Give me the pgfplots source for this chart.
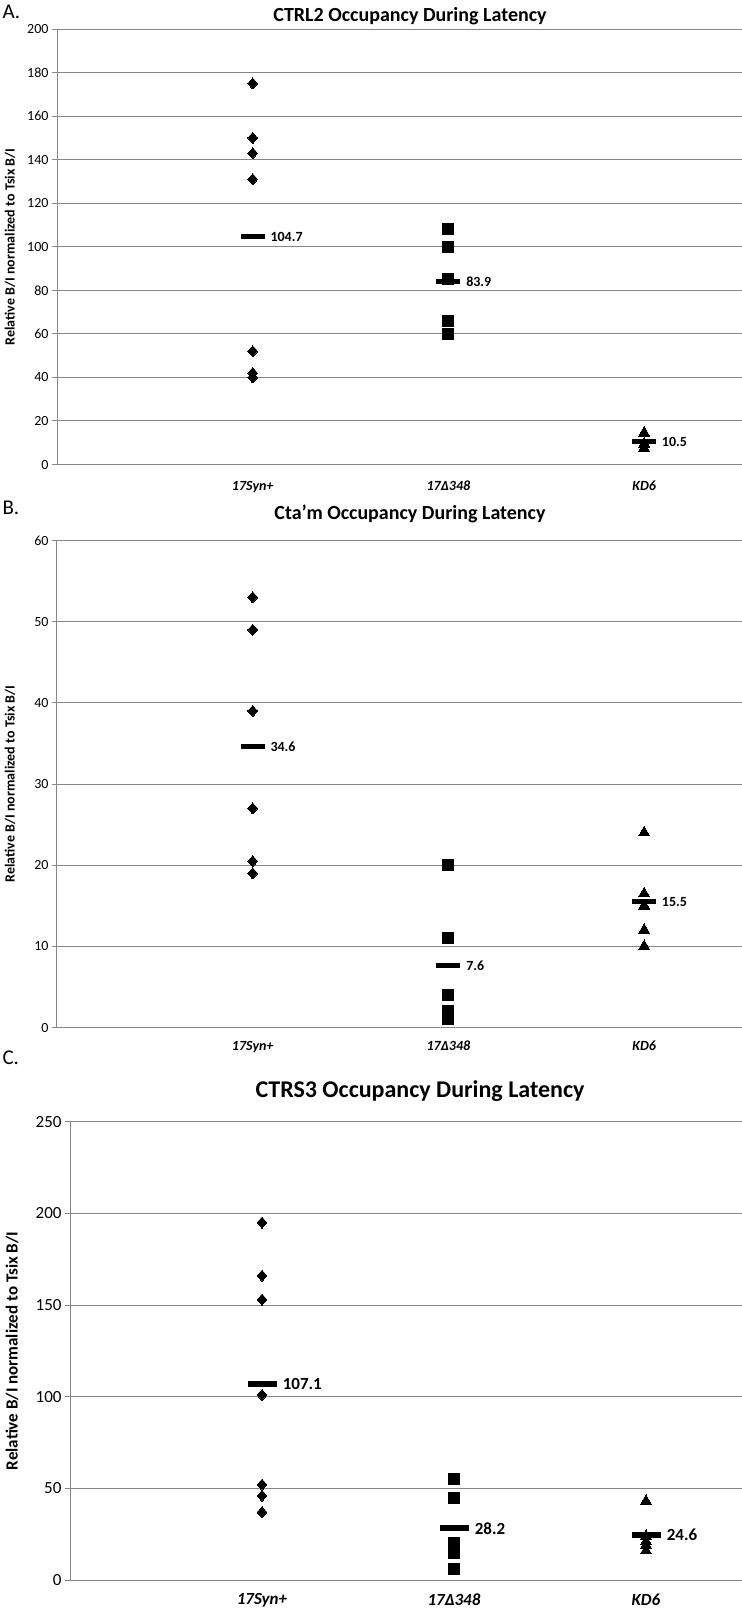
\documentclass[border=0pt]{standalone}
\usepackage{pgfplots}
\pgfplotsset{compat=1.18}
\usepackage{fontspec}
\setmainfont{Carlito}
\definecolor{gridgray}{RGB}{134,134,134}
\newcommand{\fs}[1]{\fontsize{#1bp}{#1bp}\selectfont}
\pgfplotsset{
  occ/.style={
    scale only axis, axis lines*=left,
    xmin=0, xmax=3.5, ymin=0,
    ymajorgrids,
    major grid style={line width=1bp, draw=gridgray},
    axis line style={line width=1bp, draw=gridgray},
    xtick={1,2,3},
    xticklabels={17Syn+,17Δ348,KD6},
    xtick style={draw=none},
    ytick style={line width=1bp, draw=gridgray},
    tick align=outside, major tick length=5bp,
    /pgf/number format/assume math mode=true,
    clip=false,
  },
  dia/.style={only marks, mark=diamond*, mark size=5.5bp, mark options={draw=black, fill=black, line width=0pt, xscale=1.2}},
  sq/.style={only marks, mark=square*, mark size=5.5bp, mark options={draw=black, fill=black, line width=0pt}},
  tri/.style={only marks, mark=triangle*, mark size=6.5bp, mark options={draw=black, fill=black, line width=0pt}},
  meanbar/.style n args={3}{only marks, mark=-, mark size=#1bp, mark options={line width=#2bp, draw=black},
    nodes near coords, point meta=explicit symbolic,
    every node near coord/.append style={anchor=west, xshift=#1bp, font=\bfseries\fs{#3}, text=black}},
}
\begin{document}
\begin{tikzpicture}
\useasboundingbox (0bp,0bp) rectangle (742bp,-1611bp);
% ---------------- Panel A
\node[anchor=west, font=\fs{21}] at (-1bp,-12bp) {A.};
\node[font=\bfseries\fs{20}] at (410bp,-16bp) {CTRL2 Occupancy During Latency};
\node[rotate=90, font=\bfseries\fs{14}] at (10bp,-247bp) {Relative B/I normalized to Tsix B/I};
\begin{axis}[occ, at={(57bp,-464.5bp)}, anchor=south west, width=685bp, height=435.5bp,
  ymax=200, ytick={0,20,...,200},
  yticklabel style={font=\fs{14}},
  xticklabel style={font=\bfseries\itshape\fs{14}, yshift=-8bp}]
\addplot[dia] coordinates {(1,175) (1,150) (1,143) (1,131) (1,52) (1,42) (1,40)};
\addplot[sq] coordinates {(2,108) (2,100) (2,85) (2,66) (2,60)};
\addplot[tri] coordinates {(3,14.5) (3,9.5) (3,7.5)};
\addplot[meanbar={12}{5}{14}] coordinates {(1,104.7)[104.7] (2,83.9)[83.9] (3,10.5)[10.5]};
\end{axis}
% ---------------- Panel B
\node[anchor=west, font=\fs{21}] at (-1bp,-508bp) {B.};
\node[font=\bfseries\fs{20}] at (410bp,-514bp) {Cta’m Occupancy During Latency};
\node[rotate=90, font=\bfseries\fs{14}] at (10bp,-784bp) {Relative B/I normalized to Tsix B/I};
\begin{axis}[occ, at={(57bp,-1027.5bp)}, anchor=south west, width=685bp, height=487bp,
  ymax=60, ytick={0,10,...,60},
  yticklabel style={font=\fs{14}},
  xticklabel style={font=\bfseries\itshape\fs{14}, yshift=-5bp}]
\addplot[dia] coordinates {(1,53) (1,49) (1,39) (1,27) (1,20.5) (1,19)};
\addplot[sq] coordinates {(2,20) (2,11) (2,4) (2,2) (2,1)};
\addplot[tri] coordinates {(3,24) (3,16.5) (3,15) (3,12) (3,10)};
\addplot[meanbar={12}{5}{14}] coordinates {(1,34.6)[34.6] (2,7.6)[7.6] (3,15.5)[15.5]};
\end{axis}
% ---------------- Panel C
\node[anchor=west, font=\fs{21}] at (-1bp,-1058bp) {C.};
\node[font=\bfseries\fs{24}] at (420bp,-1091bp) {CTRS3 Occupancy During Latency};
\node[rotate=90, font=\bfseries\fs{17}] at (12bp,-1351bp) {Relative B/I normalized to Tsix B/I};
\begin{axis}[occ, at={(70bp,-1580bp)}, anchor=south west, width=672bp, height=458.3bp,
  ymax=250, ytick={0,50,...,250},
  yticklabel style={font=\fs{17}},
  xticklabel style={font=\bfseries\itshape\fs{17}, yshift=-5bp}]
\addplot[dia] coordinates {(1,195) (1,166) (1,153) (1,101) (1,52) (1,46) (1,37)};
\addplot[sq] coordinates {(2,55) (2,45) (2,20) (2,15) (2,6)};
\addplot[tri] coordinates {(3,43) (3,24) (3,21) (3,19) (3,16)};
\addplot[meanbar={14.5}{6}{17}] coordinates {(1,107.1)[107.1] (2,28.2)[28.2] (3,24.6)[24.6]};
\end{axis}
\end{tikzpicture}
\end{document}
